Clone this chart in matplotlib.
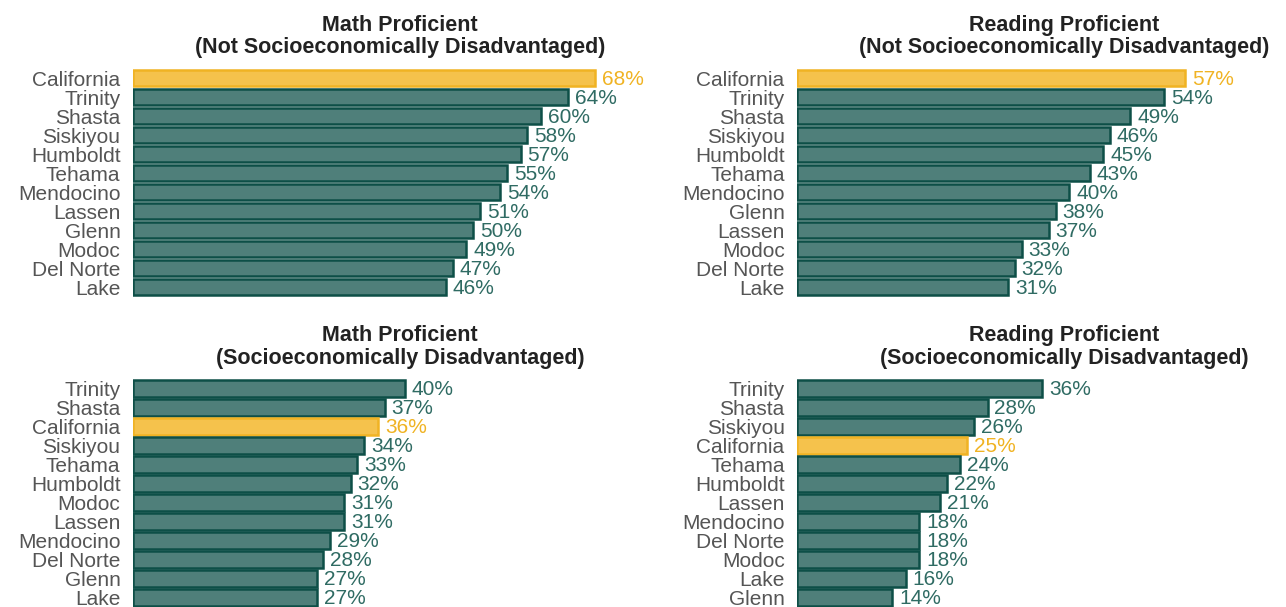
import matplotlib.pyplot as plt

plt.rcParams['font.family'] = ['Liberation Sans', 'DejaVu Sans']

# top-left: math, not disadvantaged
math_nsd_names = ['California', 'Trinity', 'Shasta', 'Siskiyou', 'Humboldt', 'Tehama',
                  'Mendocino', 'Lassen', 'Glenn', 'Modoc', 'Del Norte', 'Lake']
math_nsd_vals = [68, 64, 60, 58, 57, 55, 54, 51, 50, 49, 47, 46]

# top-right: reading, not disadvantaged
read_nsd_names = ['California', 'Trinity', 'Shasta', 'Siskiyou', 'Humboldt', 'Tehama',
                  'Mendocino', 'Glenn', 'Lassen', 'Modoc', 'Del Norte', 'Lake']
read_nsd_vals = [57, 54, 49, 46, 45, 43, 40, 38, 37, 33, 32, 31]

# bottom-left: math, disadvantaged
math_sd_names = ['Trinity', 'Shasta', 'California', 'Siskiyou', 'Tehama', 'Humboldt',
                 'Modoc', 'Lassen', 'Mendocino', 'Del Norte', 'Glenn', 'Lake']
math_sd_vals = [40, 37, 36, 34, 33, 32, 31, 31, 29, 28, 27, 27]

# bottom-right: reading, disadvantaged
read_sd_names = ['Trinity', 'Shasta', 'Siskiyou', 'California', 'Tehama', 'Humboldt',
                 'Lassen', 'Mendocino', 'Del Norte', 'Modoc', 'Lake', 'Glenn']
read_sd_vals = [36, 28, 26, 25, 24, 22, 21, 18, 18, 18, 16, 14]

TEAL = '#4f7f7a'
TEAL_EDGE = '#0d4f47'
TEAL_TEXT = '#2f6b63'
GOLD = '#f5c24c'
GOLD_EDGE = '#f0b323'
GOLD_TEXT = '#f0b323'

fig = plt.figure(figsize=(12.86, 6.07), dpi=100)

panels = [
    (math_nsd_names, math_nsd_vals, 'Math Proficient\n(Not Socioeconomically Disadvantaged)',
     [0.1034, 0.5115, 0.4152, 0.3756]),
    (read_nsd_names, read_nsd_vals, 'Reading Proficient\n(Not Socioeconomically Disadvantaged)',
     [0.6198, 0.5115, 0.4152, 0.3756]),
    (math_sd_names, math_sd_vals, 'Math Proficient\n(Socioeconomically Disadvantaged)',
     [0.1034, 0.0, 0.4152, 0.3756]),
    (read_sd_names, read_sd_vals, 'Reading Proficient\n(Socioeconomically Disadvantaged)',
     [0.6198, 0.0, 0.4152, 0.3756]),
]

for names, vals, title, rect in panels:
    ax = fig.add_axes(rect)
    ypos = list(range(len(names)))
    faces = [GOLD if n == 'California' else TEAL for n in names]
    edges = [GOLD_EDGE if n == 'California' else TEAL_EDGE for n in names]
    ax.barh(ypos, vals, height=0.88, color=faces, edgecolor=edges, linewidth=1.8)
    for y, v, n in zip(ypos, vals, names):
        ax.annotate(f'{v}%', (v, y), xytext=(5, -1), textcoords='offset points',
                    va='center', ha='left', fontsize=15,
                    color=GOLD_TEXT if n == 'California' else TEAL_TEXT)
    ax.set_yticks(ypos)
    ax.set_yticklabels(names, fontsize=15, color='#555555')
    ax.tick_params(axis='y', length=0, pad=9)
    ax.set_xticks([])
    ax.set_xlim(0, 78.5)
    ax.set_ylim(len(names) - 0.5, -0.5)
    for s in ax.spines.values():
        s.set_visible(False)
    ax.set_title(title, fontsize=15.5, fontweight='bold', color='#222222', pad=11,
                 linespacing=1.1)

fig.savefig('out.png', dpi=100)
